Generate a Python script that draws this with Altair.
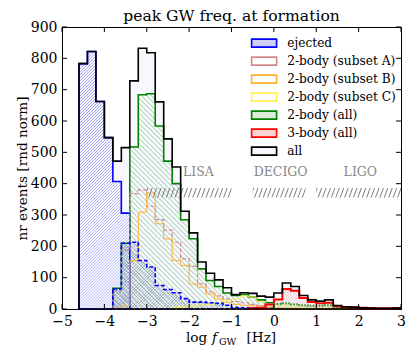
import altair as alt
import pandas as pd

# ---------------- data ----------------
bin_left = -5.0
bin_width = 0.2

all_events = [0, 0, 783, 822, 662, 547, 472, 515, 728, 832,
              818, 661, 543, 453, 312, 243, 150, 114, 93, 68,
              46, 52, 50, 41, 38, 51, 83, 72, 43, 29,
              25, 29, 11, 7, 6, 4, 3, 2, 2, 3]
ejected = [0, 0, 783, 822, 662, 547, 407, 306, 0, 0,
           0, 0, 0, 0, 0, 0, 0, 0, 0, 0,
           0, 0, 0, 0, 0, 0, 0, 0, 0, 0,
           0, 0, 0, 0, 0, 0, 0, 0, 0, 0]
two_body_all = [0, 0, 0, 0, 0, 0, 66, 210, 517, 684,
                687, 584, 472, 400, 285, 224, 128, 91, 72, 51,
                43, 46, 38, 29, 20, 0, 0, 0, 0, 0,
                0, 0, 0, 0, 0, 0, 0, 0, 0, 0]
two_body_a = [0, 0, 0, 0, 0, 0, 55, 187, 368, 380,
              328, 285, 252, 213, 160, 136, 80, 55, 42, 32,
              24, 20, 15, 11, 6, 3, 2, 0, 0, 0,
              0, 0, 0, 0, 0, 0, 0, 0, 0, 0]
two_body_b = [0, 0, 0, 0, 0, 0, 3, 10, 155, 309,
              370, 272, 224, 155, 139, 80, 70, 48, 32, 21,
              15, 12, 10, 6, 3, 1, 0, 0, 0, 0,
              0, 0, 0, 0, 0, 0, 0, 0, 0, 0]
two_body_c = [0, 0, 0, 0, 0, 0, 0, 0, 0, 0,
              0, 0, 0, 5, 8, 10, 12, 15, 18, 28,
              32, 42, 38, 24, 6, 2, 0, 0, 0, 0,
              0, 0, 0, 0, 0, 0, 0, 0, 0, 0]
three_body = [0, 0, 0, 0, 0, 0, 0, 0, 0, 0,
              0, 0, 0, 0, 0, 0, 0, 0, 0, 0,
              0, 0, 2, 4, 14, 30, 64, 58, 35, 22,
              18, 20, 8, 6, 5, 4, 3, 2, 2, 3]
# two further (unlabelled) histograms drawn in the reference
unlabelled_dashed = [0, 0, 0, 0, 0, 0, 64, 210, 213, 155,
                     134, 75, 62, 52, 33, 22, 22, 20, 18, 12,
                     5, 4, 4, 3, 2, 1, 0, 0, 0, 0,
                     0, 0, 0, 0, 0, 0, 0, 0, 0, 0]
unlabelled_dotted = [0, 0, 0, 0, 0, 0, 0, 0, 0, 0,
                     0, 0, 0, 0, 0, 0, 0, 0, 0, 0,
                     0, 0, 0, 0, 0, 16, 18, 15, 12, 10,
                     10, 12, 3, 1, 0, 0, 0, 0, 0, 0]

legend_names = ["ejected", "2-body (subset A)", "2-body (subset B)",
                "2-body (subset C)", "2-body (all)", "3-body (all)", "all"]
legend_fills = ["#cfcff5", "transparent", "transparent", "transparent",
                "#d9edd9", "#fad3d3", "#f8f8ff"]
legend_strokes = ["#0000ff", "#d08a8a", "#ffb030", "#ffee55",
                  "#008000", "#ff0000", "#000000"]

x_ticks = [-5, -4, -3, -2, -1, 0, 1, 2, 3]
y_ticks = [0, 100, 200, 300, 400, 500, 600, 700, 800, 900]

chart_title = "peak GW freq. at formation"

detector_names = ["LISA", "DECIGO", "LIGO"]
detector_label_x = [-1.78, 0.16, 2.04]
detector_label_y = [437, 437, 437]
detector_band_lo = [-3.0, -0.5, 1.0]
detector_band_hi = [-1.0, 0.75, 3.0]
detector_band_bottom = [356, 356, 356]
detector_band_top = [386, 386, 386]

# ---------------- geometry / style ----------------
W, H = 339, 282
XMIN, XMAX, YMAX = -5, 3, 900
SERIF = "DejaVu Serif"

xscale = alt.Scale(domain=[XMIN, XMAX], nice=False, zero=False)
yscale = alt.Scale(domain=[0, YMAX], nice=False)
xaxis = alt.Axis(values=x_ticks, title=None, format="d", labelFlush=False,
                 labelOverlap=False, labelPadding=5)
yaxis = alt.Axis(values=y_ticks, title="nr events [rnd norm]", format="d",
                 labelPadding=5, titlePadding=1)


def nonzero_range(values):
    idx = [i for i, v in enumerate(values) if v > 0]
    return idx[0], idx[-1]


def step_frame(values):
    i0, i1 = nonzero_range(values)
    rows = [{"x": round(bin_left + i * bin_width, 4), "v": values[i]} for i in range(i0, i1 + 1)]
    rows.append({"x": round(bin_left + (i1 + 1) * bin_width, 4), "v": values[i1]})
    return pd.DataFrame(rows)


def box_px(x0, x1, y0, y1):
    return (x1 - x0) * W / (XMAX - XMIN), (y1 - y0) * H / YMAX


def hatch(w, h, slope, period, rgb, alpha=1.0, back=False, duty=0.45):
    """diagonal stripes as a linear gradient over the item's bounding box"""
    r = h / (slope * w)
    a = (1 + r) / (1 + r * r)
    b = a * r
    n = max(1, int(round((w + h / slope) / period)))
    on = "rgba(%d,%d,%d,%.3f)" % (rgb[0], rgb[1], rgb[2], alpha)
    off = "rgba(%d,%d,%d,0)" % rgb
    stops = []
    for k in range(n):
        stops.append(alt.GradientStop(offset=k / n, color=off))
        stops.append(alt.GradientStop(offset=(k + duty / 2) / n, color=on))
        stops.append(alt.GradientStop(offset=(k + duty) / n, color=off))
    stops.append(alt.GradientStop(offset=1, color=off))
    if back:
        return alt.LinearGradient(gradient="linear", stops=stops, x1=0, y1=1, x2=a, y2=1 - b)
    return alt.LinearGradient(gradient="linear", stops=stops, x1=0, y1=0, x2=a, y2=b)


def hist_hatch(values, slope, period, rgb, alpha=1.0, back=False, duty=0.45):
    i0, i1 = nonzero_range(values)
    w, h = box_px(bin_left + i0 * bin_width, bin_left + (i1 + 1) * bin_width, 0, max(values))
    return hatch(w, h, slope, period, rgb, alpha, back, duty)


def hist(values, fill="transparent", stroke="transparent", sw=1.5, dash=None):
    kw = dict(interpolate="step-after", fill=fill, stroke=stroke, strokeWidth=sw,
              strokeJoin="miter")
    if dash is not None:
        kw["strokeDash"] = dash
    return alt.Chart(step_frame(values)).mark_area(**kw).encode(
        x=alt.X("x:Q", scale=xscale, axis=xaxis),
        y=alt.Y("v:Q", scale=yscale, axis=yaxis),
    )


def label(text, px, py, size, style="normal", align="left", color="black"):
    return alt.Chart(pd.DataFrame({"t": [text]})).mark_text(
        font=SERIF, fontSize=size, fontStyle=style, align=align, baseline="alphabetic",
        color=color).encode(x=alt.value(px), y=alt.value(py), text="t:N")


layers = []
# background fill of "all"
layers.append(hist(all_events, fill="#f8f8ff"))
# unlabelled dashed histogram: grey-blue cross hatch
layers.append(hist(unlabelled_dashed, fill=hist_hatch(unlabelled_dashed, 1, 3.2, (110, 125, 170), 0.55)))
layers.append(hist(unlabelled_dashed, fill=hist_hatch(unlabelled_dashed, 1, 3.2, (110, 125, 170), 0.55, back=True)))
# ejected
layers.append(hist(ejected, fill=hist_hatch(ejected, 1, 3.0, (70, 70, 230), 0.5, duty=0.5),
                   stroke="#0000ff", sw=1.6))
# 2-body (all)
layers.append(hist(two_body_all, fill=hist_hatch(two_body_all, 1, 5.0, (60, 150, 60), 0.45, back=True),
                   stroke="#008000", sw=1.6))
# subsets
layers.append(hist(two_body_a, stroke="#d08a8a", sw=1.2, dash=[4, 2]))
layers.append(hist(two_body_b, stroke="#ffb030", sw=1.0))
layers.append(hist(two_body_c, stroke="#ffee55", sw=1.0))
# dashed outline on top
layers.append(hist(unlabelled_dashed, stroke="#0000ff", sw=1.6, dash=[4, 2]))
# 3-body
layers.append(hist(three_body, fill=hist_hatch(three_body, 1, 3.0, (240, 70, 70), 0.6),
                   stroke="#ff0000", sw=2.0))
layers.append(hist(unlabelled_dotted, fill="rgba(200,220,120,0.5)", stroke="#2e8b2e", sw=2.0,
                   dash=[1.5, 1.5]))

# detector bands and labels
for lo, hi, yb, yt in zip(detector_band_lo, detector_band_hi, detector_band_bottom, detector_band_top):
    w, h = box_px(lo, hi, yb, yt)
    band = pd.DataFrame({"x0": [lo], "x1": [hi], "y0": [yb], "y1": [yt]})
    layers.append(alt.Chart(band).mark_rect(fill=hatch(w, h, 2.7, 4.4, (110, 110, 110), 0.9)).encode(
        x=alt.X("x0:Q", scale=xscale, axis=xaxis), x2="x1",
        y=alt.Y("y0:Q", scale=yscale, axis=yaxis), y2="y1"))
det_df = pd.DataFrame({"x": detector_label_x, "v": detector_label_y, "name": detector_names})
layers.append(alt.Chart(det_df).mark_text(font=SERIF, fontSize=12.5, color="#888888",
                                          baseline="middle", align="center").encode(
    x=alt.X("x:Q", scale=xscale, axis=xaxis), y=alt.Y("v:Q", scale=yscale, axis=yaxis), text="name:N"))

# "all" outline on top
layers.append(hist(all_events, stroke="#000000", sw=1.6))

# inward ticks on all four sides
xt = pd.DataFrame({"x": x_ticks})
yt = pd.DataFrame({"v": y_ticks})
for ya, yb in [(H, H - 5), (0, 5)]:
    layers.append(alt.Chart(xt).mark_rule(color="black", strokeWidth=1).encode(
        x=alt.X("x:Q", scale=xscale, axis=xaxis), y=alt.value(ya), y2=alt.value(yb)))
for xa, xb in [(0, 5), (W, W - 5)]:
    layers.append(alt.Chart(yt).mark_rule(color="black", strokeWidth=1).encode(
        y=alt.Y("v:Q", scale=yscale, axis=yaxis), x=alt.value(xa), x2=alt.value(xb)))

# chart title and x-axis title (log f_GW [Hz])
layers.append(label(chart_title, W / 2, -6, 15.6, align="center"))
layers.append(label("log", 124, 315, 13.6))
layers.append(label("f", 150, 315, 13.6, style="italic"))
layers.append(label("GW", 157, 317.5, 9.5))
layers.append(label("[Hz]", 184.5, 315, 13.6))

# legend (from explicit scale domains)
legend_df = pd.DataFrame({"series": legend_names, "x": [0.0] * 7, "v": [0.0] * 7})
leg = alt.Legend(title=None, orient="none", legendX=196, legendY=10,
                 symbolType="M-2.5,-0.8L2.5,-0.8L2.5,0.8L-2.5,0.8Z", symbolSize=100,
                 symbolStrokeWidth=1.6, labelFont=SERIF, labelFontSize=12.2,
                 labelColor="black", labelOffset=17, rowPadding=2, padding=0)
layers.append(alt.Chart(legend_df).mark_area().encode(
    x=alt.X("x:Q", scale=xscale, axis=xaxis),
    y=alt.Y("v:Q", scale=yscale, axis=yaxis),
    fill=alt.Fill("series:N", scale=alt.Scale(domain=legend_names, range=legend_fills), legend=leg),
    stroke=alt.Stroke("series:N", scale=alt.Scale(domain=legend_names, range=legend_strokes), legend=leg),
).transform_filter("false"))

chart = alt.layer(*layers).properties(
    width=W, height=H,
    padding={"left": 54, "top": 19, "right": 6, "bottom": 41},
    autosize=alt.AutoSizeParams(type="none"),
).configure_view(stroke="black", strokeWidth=1).configure_axis(
    grid=False, ticks=False, tickSize=0, domainColor="black", domainWidth=1,
    labelFont=SERIF, labelFontSize=14, labelColor="black",
    titleFont=SERIF, titleFontSize=13.6, titleFontWeight="normal", titleColor="black",
    zindex=1,
)

chart.save("out.html", embed_options={"renderer": "svg", "actions": False})
